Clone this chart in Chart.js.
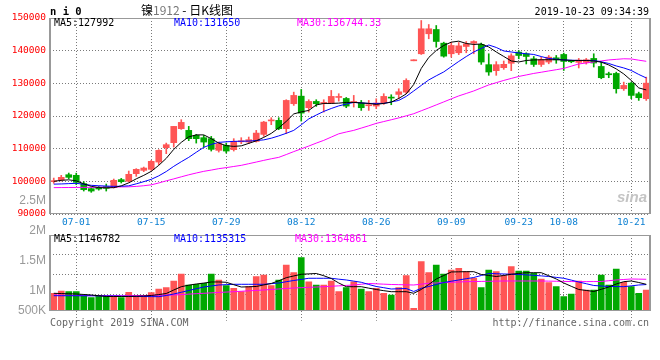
<!DOCTYPE html>
<html><head><meta charset="utf-8">
<script src="https://cdn.jsdelivr.net/npm/chart.js@4.4.1/dist/chart.umd.min.js"></script>
<style>
html,body{margin:0;padding:0;background:#fff;}
body{width:660px;height:360px;position:relative;overflow:hidden;}
canvas{position:absolute;left:0;}
.t{position:absolute;white-space:pre;font-family:"DejaVu Sans Mono",monospace;font-size:10px;line-height:12px;color:#000;}
</style></head><body>
<canvas id="pc" width="660" height="232" style="top:0"></canvas>
<canvas id="vc" width="660" height="170" style="top:190px"></canvas>
<div class="t" style="left:50px;top:5px;font-weight:bold;font-size:10.5px;line-height:13px">n i 0</div>
<div class="t" style="left:141px;top:2px;font-family:'Noto Sans CJK SC',sans-serif;font-size:12px;line-height:16px">镍<span style="color:#777">1912</span> - 日K线图</div>
<div class="t" style="right:11px;top:6px">2019-10-23 09:34:39</div>
<div class="t" id="m5" style="left:54px;top:17px"></div>
<div class="t" id="m10" style="left:174px;top:17px;color:#0000ff"></div>
<div class="t" id="m30" style="left:297px;top:17px;color:#ff00ff"></div>
<div class="t" id="v5" style="left:54px;top:233px"></div>
<div class="t" id="v10" style="left:174px;top:233px;color:#0000ff"></div>
<div class="t" id="v30" style="left:295px;top:233px;color:#ff00ff"></div>
<div class="t" style="left:50px;top:317px;color:#666">Copyright 2019 SINA.COM</div>
<div class="t" style="right:11px;top:317px;color:#666">http://finance.sina.com.cn</div>
<div class="t" style="left:617px;top:189px;font-family:'Liberation Sans',sans-serif;font-style:italic;font-weight:bold;font-size:15px;line-height:16px;color:#c4c4c4">sina</div>
<script>
const DATES = ['06-26','06-27','06-28',
'07-01','07-02','07-03','07-04','07-05','07-08','07-09','07-10','07-11','07-12',
'07-15','07-16','07-17','07-18','07-19','07-22','07-23','07-24','07-25','07-26',
'07-29','07-30','07-31','08-01','08-02','08-05','08-06','08-07','08-08','08-09',
'08-12','08-13','08-14','08-15','08-16','08-19','08-20','08-21','08-22','08-23',
'08-26','08-27','08-28','08-29','08-30','09-02','09-03','09-04','09-05','09-06',
'09-09','09-10','09-11','09-12','09-16','09-17','09-18','09-19','09-20',
'09-23','09-24','09-25','09-26','09-27','09-30',
'10-08','10-09','10-10','10-11','10-14','10-15','10-16','10-17','10-18',
'10-21','10-22','10-23'];
const X_TICK_LABELS = ['07-01','07-15','07-29','08-12','08-26','09-09','09-23','10-08','10-21'];

const OPEN = [99900,100400,102030,101830,99300,97770,98165,98380,98070,100520,
100000,102350,103360,103670,105900,110300,111830,116120,115600,114070,
113360,113060,109480,111000,109690,112100,112020,112230,114370,118500,
118660,116120,123760,126080,122540,124460,123850,123950,125680,125370,
124140,123950,123140,123040,124060,125700,126610,127300,136900,139050,
145170,146480,142290,139050,139360,141280,142290,141900,135720,133880,
134800,136130,139560,139050,137520,135780,136520,137820,138840,136800,
136420,136420,137620,135170,132730,133030,128350,130060,126820,125290];
const HIGH = [101000,101830,102540,102500,99900,98070,98500,99170,100700,100900,
103150,103880,104370,106420,109690,111710,116820,118870,116820,114370,
114070,113760,112020,111710,113060,113360,113560,115600,118350,119480,
119480,124980,127300,128130,124980,124980,124980,127830,126820,125680,
126300,124770,124770,125270,126820,126510,128340,131400,137000,149230,
148010,147700,142600,142600,142500,142800,143030,142330,139050,136640,
136840,139050,140050,139360,138220,138010,138530,138530,139250,137100,
137620,137620,139050,136510,133420,133420,130370,130370,127310,131900];
const LOW = [99400,100100,100800,99000,97030,96640,97300,97030,97950,99480,
99800,101530,102970,103360,105100,108470,110490,115900,112450,111710,
110490,109270,108960,108650,109270,111530,111530,112020,113760,117340,
115800,114590,123240,118440,121200,122940,121200,123950,124550,122540,
122740,121710,121710,122230,123550,123450,125270,126820,136900,138840,
143640,141070,138010,138010,138800,139360,139050,135800,132450,132450,
134290,133880,137520,135920,135160,135160,135990,136130,133940,136300,
134700,135890,134990,131400,131720,127000,127830,125290,124770,124770];
const CLOSE = [100000,101220,101220,99700,97460,97030,97650,97860,100300,99900,
102140,103670,104070,106120,109480,111220,116820,118040,113060,113060,
112020,109790,111530,109270,112230,112230,112750,114770,118130,118660,
116120,124770,126300,120890,124460,123760,123950,126000,125780,123030,
124240,122540,123240,123950,126000,125480,127410,130890,137000,146700,
146700,142810,138320,141590,141480,142080,142800,136520,133470,135720,
135820,138420,138520,138220,135780,137210,138010,137210,136700,136600,
137110,137210,136220,131720,132630,128350,129360,126300,125600,130060];

const MA5 = [100000,100310,100460,100150,99240,98470,98070,98010,98070,98620,
99540,100760,101830,103060,104890,107030,109790,111930,113610,114220,
114220,113060,111710,110920,110700,110860,111620,112390,113460,114680,
116360,118350,120640,121250,121710,123390,123850,123850,123940,124160,
124160,124000,123850,123550,123850,124250,125380,126760,129660,134560,
137920,140060,141590,142600,142910,142200,141900,142050,141130,139600,
138230,136850,136540,137000,137160,137220,137220,137220,137160,137000,
137000,137000,136850,136480,135630,134410,132880,130890,128600,127992];
const MA10 = [99140,99200,99300,99390,99100,98780,98650,98550,98470,98500,
98620,99240,99900,100610,101680,103000,104590,106000,107340,108900,
110400,111300,111930,112100,112230,112280,112320,112500,112690,113200,
113910,114700,115600,117300,119110,120300,121400,122300,123090,123650,
124160,124000,123850,123850,123850,124300,124770,126000,127670,129360,
131040,132300,133490,135100,136700,138200,139600,140670,141740,140980,
139910,139600,139300,139050,138840,138200,137610,137400,137160,137080,
137000,137000,137000,136600,136080,135320,134710,133940,132720,131650];
const MA30 = [98070,98090,98110,98130,98150,98170,98200,98230,98260,98290,
98320,98450,98650,98930,99500,100150,100750,101380,102000,102550,
103060,103450,103880,104200,104550,104890,105400,105900,106420,106900,
107340,108200,109100,109940,110800,111700,112540,113550,114550,115100,
115600,116300,117000,117740,118300,118850,119420,120050,120700,121600,
122480,123400,124310,125250,126150,126900,127670,128600,129510,130200,
130890,131500,132110,132570,133030,133400,133790,134170,134560,135250,
135930,136230,136540,136850,137160,137340,137520,137460,137090,136744.33];

const VOLUME = [757000,857000,826000,826000,683000,565000,652000,639000,639000,565000,
800000,652000,652000,783000,943000,1000000,1290000,1596000,1117000,1146000,
1190000,1596000,1335000,1088000,972000,826000,1044000,1480000,1550000,1088000,
1335000,1987000,1652000,2304000,1260000,1117000,1117000,1290000,826000,1000000,
1260000,943000,826000,972000,757000,683000,1000000,1522000,104000,2130000,
1652000,1987000,1596000,1770000,1843000,1696000,1409000,1000000,1770000,1696000,
1522000,1913000,1726000,1726000,1626000,1378000,1217000,1044000,609000,726000,
1290000,900000,900000,1552000,1117000,1813000,1235000,1044000,757000,900000];
const VMA5 = [757000,745000,735000,726000,705000,683000,650000,617000,617000,617000,
620000,626000,640000,661000,700000,748000,900000,1043000,1110000,1161000,
1200000,1248000,1250000,1235000,1130000,1030000,1040000,1052000,1120000,1183000,
1300000,1435000,1510000,1583000,1600000,1617000,1520000,1400000,1204000,1043000,
1043000,1043000,980000,922000,870000,826000,826000,826000,757000,922000,
1139000,1378000,1530000,1683000,1690000,1696000,1696000,1574000,1530000,1487000,
1530000,1583000,1620000,1652000,1652000,1652000,1520000,1378000,1204000,1060000,
922000,880000,835000,930000,1030000,1161000,1261000,1291000,1226000,1146782];
const VMA10 = [652000,651000,650000,649000,648000,648000,645000,642000,639000,633000,
628000,622000,617000,613000,609000,660000,726000,800000,878000,955000,
1030000,1075000,1117000,1133000,1148000,1148000,1148000,1148000,1148000,1175000,
1204000,1260000,1313000,1360000,1409000,1409000,1409000,1409000,1370000,1335000,
1285000,1235000,1140000,1052000,1000000,943000,955000,965000,835000,974000,
1052000,1140000,1226000,1280000,1335000,1390000,1443000,1530000,1617000,1606000,
1596000,1585000,1574000,1556000,1539000,1513000,1487000,1448000,1409000,1330000,
1248000,1172000,1096000,1074000,1052000,1048000,1043000,1080000,1117000,1135315];
const VMA30 = [683000,675000,670000,665000,660000,657000,655000,653000,652000,652000,
652000,655000,660000,665000,672000,678000,683000,700000,720000,740000,
757000,775000,792000,810000,826000,845000,863000,881000,900000,922000,
944000,965000,987000,1001000,1015000,1029000,1043000,1062000,1080000,1099000,
1117000,1150000,1183000,1168000,1153000,1139000,1132000,1124000,1117000,1154000,
1191000,1205000,1219000,1233000,1247000,1261000,1267000,1273000,1279000,1285000,
1291000,1291000,1291000,1291000,1291000,1291000,1285000,1279000,1273000,1267000,
1261000,1264000,1267000,1270000,1303000,1335000,1356000,1378000,1372000,1364861];

const PRICE_TICK_STEP = 10000;
const VOL_TICK_VALUES = [500000,1000000,1500000,2000000,2500000];
const VOL_TICK_LABELS = ['500K','1M','1.5M','2M','2.5M'];
const VOL_GRID_VALUES = [690000,1560000,2430000];

const last = a => a[a.length-1];
document.getElementById('m5').textContent = 'MA5:' + last(MA5);
document.getElementById('m10').textContent = 'MA10:' + last(MA10);
document.getElementById('m30').textContent = 'MA30:' + last(MA30);
document.getElementById('v5').textContent = 'MA5:' + last(VMA5);
document.getElementById('v10').textContent = 'MA10:' + last(VMA10);
document.getElementById('v30').textContent = 'MA30:' + last(VMA30);

const UP = '#ff5555', DOWN = '#00a800', GRID = '#7a7a7a', FRAME = '#999999';
const colors = CLOSE.map((c,i) => c >= OPEN[i] ? UP : DOWN);
const tickIdx = X_TICK_LABELS.map(l => DATES.indexOf(l));
const mono = {family:'DejaVu Sans Mono', size:9.5};

const frame = { id:'frame', afterDraw(c){
  const {ctx, chartArea:a} = c;
  const l = Math.round(a.left), r = Math.round(a.right), t = Math.round(a.top), b = Math.round(a.bottom);
  ctx.save(); ctx.fillStyle = FRAME;
  ctx.fillRect(l, t, r-l, 1);
  ctx.fillRect(l, b-1, r-l, 1);
  ctx.fillRect(l-1, t, 2, b-t);
  ctx.fillRect(r-1, t, 2, b-t);
  ctx.restore();
}};

const lineDs = (data, color, yid) => ({type:'line', data, borderColor:color, borderWidth:1, pointRadius:0, tension:0, order:0, yAxisID:yid, xAxisID:'x'});
const common = {responsive:false, animation:false, devicePixelRatio:1, events:[],
  plugins:{legend:{display:false}, tooltip:{enabled:false}}};

new Chart(document.getElementById('pc'), {
  type:'bar',
  data:{labels:DATES, datasets:[
    lineDs(MA5,'#000000','y'), lineDs(MA10,'#0000ff','y'), lineDs(MA30,'#ff00ff','y'),
    {type:'bar', data:OPEN.map((o,i)=>[o, CLOSE[i]]), backgroundColor:colors, barThickness:6, minBarLength:1, grouped:false, order:1, yAxisID:'y', xAxisID:'x'},
    {type:'bar', data:LOW.map((l,i)=>[l, HIGH[i]]), backgroundColor:colors, barThickness:1, minBarLength:1, grouped:false, order:2, yAxisID:'y', xAxisID:'x'}
  ]},
  options:Object.assign({}, common, {
    layout:{padding:{top:18, right:10, left:0, bottom:0}},
    scales:{
      x:{type:'category', offset:true,
        grid:{offset:false, color:GRID, lineWidth:1, drawTicks:false},
        border:{display:false, dash:[1,2]},
        afterBuildTicks:s=>{ s.ticks = tickIdx.map(v=>({value:v})); },
        ticks:{autoSkip:false, maxRotation:0, color:'#0a7fd2', font:mono, padding:2.5, callback:v=>DATES[v]},
        afterFit:s=>{ s.height = 18; }},
      y:{type:'linear', min:90000, max:150000,
        ticks:{stepSize:PRICE_TICK_STEP, autoSkip:false, color:'#ff0000', font:mono, padding:4, callback:v=>String(v)},
        grid:{color:GRID, lineWidth:1, drawTicks:false},
        border:{display:false, dash:[1,2]},
        afterFit:s=>{ s.width = 50; }}
    }
  }),
  plugins:[frame]
});

new Chart(document.getElementById('vc'), {
  type:'bar',
  data:{labels:DATES, datasets:[
    lineDs(VMA5,'#000000','y'), lineDs(VMA10,'#0000ff','y'), lineDs(VMA30,'#ff00ff','y'),
    {type:'bar', data:VOLUME, backgroundColor:colors, barThickness:6, order:1, yAxisID:'y', xAxisID:'x'}
  ]},
  options:Object.assign({}, common, {
    layout:{padding:{top:45, right:10, left:0, bottom:39.3}},
    scales:{
      x:{type:'category', offset:true,
        grid:{offset:false, color:GRID, lineWidth:1, drawTicks:true, tickLength:10, tickBorderDash:[1,2]},
        border:{display:false, dash:[1,2]},
        afterBuildTicks:s=>{ s.ticks = tickIdx.map(v=>({value:v})); },
        ticks:{display:false},
        afterFit:s=>{ s.height = 10; }},
      yl:{type:'linear', position:'left', min:671700, max:1933300,
        afterBuildTicks:s=>{ s.ticks = VOL_TICK_VALUES.map(v=>({value:Math.max(v, s.min)})); },
        ticks:{autoSkip:false, color:'#999999', font:{family:'Liberation Sans', size:12}, padding:4, callback:(v,i)=>VOL_TICK_LABELS[i]},
        grid:{display:false, drawTicks:false},
        border:{display:false},
        afterFit:s=>{ s.width = 50; }},
      y:{type:'linear', position:'left', min:0, max:3290000,
        afterBuildTicks:s=>{ s.ticks = VOL_GRID_VALUES.map(v=>({value:v})); },
        ticks:{display:false},
        grid:{color:GRID, lineWidth:1, drawTicks:false},
        border:{display:false, dash:[1,2]},
        afterFit:s=>{ s.width = 0; }}
    }
  }),
  plugins:[frame]
});
</script>
</body></html>
